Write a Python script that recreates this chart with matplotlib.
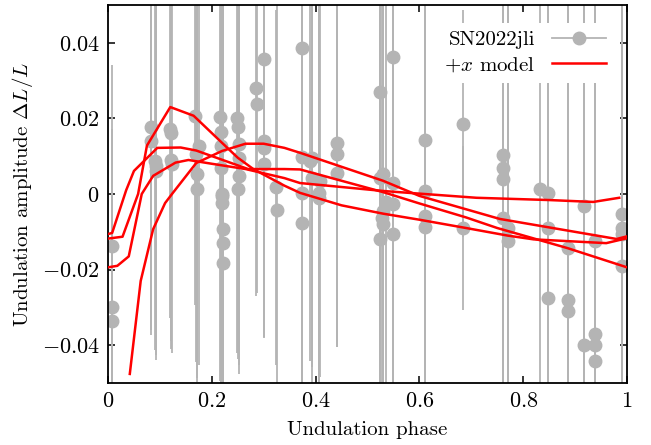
import numpy as np
import matplotlib.pyplot as plt
from matplotlib.lines import Line2D

plt.rcParams['font.family'] = 'serif'
plt.rcParams['font.serif'] = ['cmr10']
plt.rcParams['mathtext.fontset'] = 'cm'
plt.rcParams['axes.unicode_minus'] = False

# SN2022jli undulation points (phase, amplitude, error)
phase = [0.008, 0.008, 0.008,
         0.082, 0.083, 0.090, 0.092, 0.093,
         0.120, 0.121, 0.122, 0.123,
         0.167, 0.175, 0.170, 0.172, 0.172,
         0.216, 0.217, 0.218, 0.218, 0.219, 0.220, 0.220, 0.221, 0.222, 0.222,
         0.248, 0.250, 0.252, 0.252, 0.252, 0.250,
         0.286, 0.287,
         0.300, 0.300, 0.301, 0.301,
         0.324, 0.325,
         0.374, 0.374, 0.374, 0.374,
         0.390, 0.393, 0.393, 0.408, 0.407, 0.407,
         0.441, 0.441, 0.441,
         0.524, 0.525, 0.530, 0.530, 0.528, 0.530, 0.524, 0.535,
         0.549, 0.549, 0.549, 0.549,
         0.611, 0.611, 0.611, 0.611,
         0.684, 0.684,
         0.761, 0.761, 0.761, 0.761, 0.771, 0.771,
         0.832, 0.848, 0.848, 0.848,
         0.886, 0.886, 0.886,
         0.917, 0.917,
         0.938, 0.938, 0.938, 0.938,
         0.990, 0.990, 0.990, 0.990]
amp = [-0.0138, -0.0298, -0.0335,
       0.0176, 0.0141, 0.0088, 0.0074, 0.0062,
       0.0172, 0.0162, 0.0090, 0.0079,
       0.0207, 0.0127, 0.0105, 0.0053, 0.0013,
       0.0205, 0.0163, 0.0128, 0.0068, 0.0000, -0.0005, -0.0024, -0.0093, -0.0130, -0.0183,
       0.0200, 0.0176, 0.0133, 0.0096, 0.0048, 0.0013,
       0.0280, 0.0239,
       0.0356, 0.0140, 0.0122, 0.0080,
       0.0018, -0.0042,
       0.0385, 0.0097, 0.0003, -0.0077,
       0.0088, 0.0095, 0.0043, 0.0035, 0.0003, -0.0010,
       0.0136, 0.0106, 0.0056,
       0.0269, 0.0043, 0.0053, -0.0045, -0.0063, -0.0080, -0.0120, -0.0020,
       0.0362, 0.0030, -0.0027, -0.0107,
       0.0143, 0.0008, -0.0058, -0.0088,
       0.0186, -0.0090,
       0.0104, 0.0070, 0.0040, -0.0063, -0.0090, -0.0125,
       0.0013, 0.0003, -0.0090, -0.0276,
       -0.0143, -0.0280, -0.0310,
       -0.0032, -0.0400,
       -0.0125, -0.0370, -0.0400, -0.0443,
       -0.0053, -0.0090, -0.0105, -0.0190]
err = [0.048, 0.047, 0.050,
       0.055, 0.050, 0.050, 0.050, 0.050,
       0.050, 0.055, 0.050, 0.050,
       0.050, 0.058, 0.055, 0.055, 0.050,
       0.070, 0.070, 0.070, 0.070, 0.070, 0.070, 0.070, 0.070, 0.070, 0.063,
       0.062, 0.050, 0.061, 0.050, 0.050, 0.045,
       0.055, 0.050,
       0.060, 0.052, 0.050, 0.045,
       0.047, 0.080,
       0.080, 0.080, 0.080, 0.080,
       0.053, 0.060, 0.050, 0.052, 0.050, 0.050,
       0.054, 0.050, 0.046,
       0.100, 0.100, 0.100, 0.100, 0.100, 0.100, 0.100, 0.100,
       0.100, 0.100, 0.100, 0.100,
       0.100, 0.100, 0.100, 0.100,
       0.030, 0.0216,
       0.100, 0.100, 0.100, 0.100, 0.100, 0.100,
       0.100, 0.100, 0.100, 0.100,
       0.100, 0.100, 0.100,
       0.100, 0.100,
       0.100, 0.100, 0.100, 0.100,
       0.046, 0.100, 0.100, 0.100]

# +x model curves
m1_x = [0, 0.028, 0.058, 0.075, 0.12, 0.165, 0.22, 0.25, 0.28, 0.34, 0.37, 0.45, 0.53, 0.6, 0.69, 0.77, 0.82, 0.96, 1.0]
m1_y = [-0.0118, -0.0113, 0.0, 0.0128, 0.0230, 0.0207, 0.0135, 0.0096, 0.0066, 0.0022, 0.0003,
        -0.0030, -0.0052, -0.0068, -0.0090, -0.0110, -0.0120, -0.0130, -0.0117]
m2_x = [0, 0.008, 0.035, 0.05, 0.095, 0.14, 0.17, 0.27, 0.34, 0.37, 0.45, 0.53, 0.6, 0.69, 0.75, 0.885, 1.0]
m2_y = [-0.0106, -0.0103, 0.001, 0.0061, 0.0122, 0.0123, 0.0115, 0.0066, 0.0066, 0.0065,
        0.0035, 0.0005, -0.0025, -0.0062, -0.0090, -0.0143, -0.0194]
m3_x = [0, 0.018, 0.04, 0.065, 0.087, 0.13, 0.155, 0.2, 0.265, 0.34, 0.37, 0.53, 0.71, 0.85, 0.935, 0.985]
m3_y = [-0.0194, -0.0190, -0.0165, 0.0, 0.0048, 0.0083, 0.0090, 0.0080, 0.0066, 0.0042, 0.0029,
        0.0008, -0.0010, -0.0016, -0.0021, -0.0010]
m4_x = [0.042, 0.063, 0.087, 0.11, 0.125, 0.17, 0.22, 0.265, 0.3, 0.34, 0.37, 0.53, 0.6, 0.755, 0.98, 1.0]
m4_y = [-0.0476, -0.0230, -0.0093, -0.0024, 0.0003, 0.0082, 0.0114, 0.0133, 0.0133, 0.0122, 0.0109,
        0.0035, -0.0005, -0.0066, -0.0119, -0.0112]

gray = '#b4b4b4'
red = '#ff0000'

fig = plt.figure(figsize=(6.51, 4.45), dpi=100)
ax = fig.add_axes([108 / 651, 1 - 383 / 445, 519 / 651, 378 / 445])

ax.errorbar(phase, amp, yerr=err, fmt='o', color=gray, ms=9, elinewidth=1.3,
            capsize=0, zorder=2)
for mx, my in [(m1_x, m1_y), (m2_x, m2_y), (m3_x, m3_y), (m4_x, m4_y)]:
    ax.plot(mx, my, color=red, lw=1.8, zorder=3)

ax.set_xlim(0, 1)
ax.set_ylim(-0.05, 0.05)

xt = [0, 0.2, 0.4, 0.6, 0.8, 1.0]
xl = ['0', '0.2', '0.4', '0.6', '0.8', '1']
yt = [-0.04, -0.02, 0, 0.02, 0.04]
yl = ['-0.04', '-0.02', '0', '0.02', '0.04']
ax.set_xticks(xt)
ax.set_xticklabels([r'$\mathbf{' + s + '}$' for s in xl], fontsize=16)
ax.set_yticks(yt)
ax.set_yticklabels([r'$\mathbf{' + s + '}$' for s in yl], fontsize=16)
ax.tick_params(direction='in', top=True, right=True, length=5, width=1.1, pad=6)
for s in ax.spines.values():
    s.set_linewidth(1.3)

ax.set_xlabel('Undulation phase', fontsize=15, labelpad=7)
ax.set_ylabel(r'Undulation amplitude $\Delta L/L$', fontsize=15, labelpad=5)

h_data = Line2D([], [], color=gray, marker='o', ms=9, lw=1.3)
h_model = Line2D([], [], color=red, lw=1.8)
leg = ax.legend([h_data, h_model], ['SN2022jli', r'$+x$ model'], loc='upper right',
                bbox_to_anchor=(1.0, 1 - 5 / 378),
                markerfirst=False, fontsize=15, frameon=True, framealpha=1,
                edgecolor='none', fancybox=False, handlelength=2.6,
                borderaxespad=0.6, labelspacing=0.3)
leg.set_zorder(5)

fig.savefig('out.png', dpi=100)
